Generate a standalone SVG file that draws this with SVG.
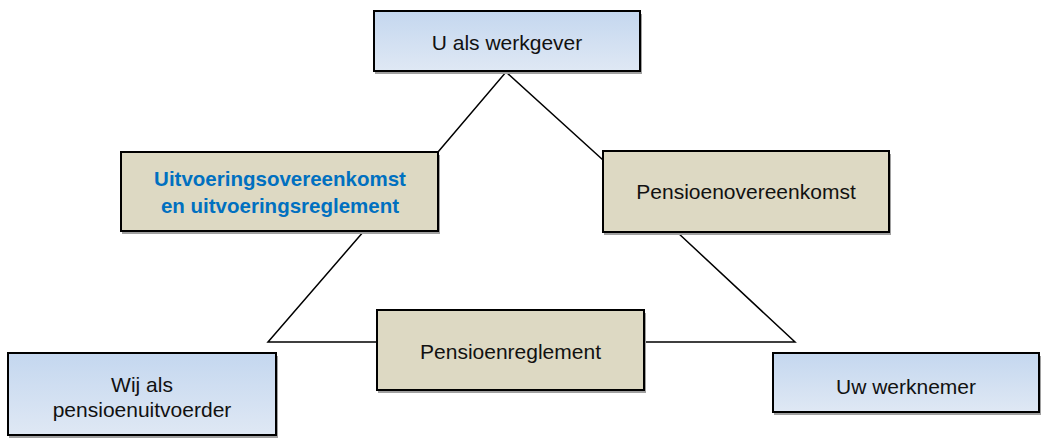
<svg xmlns="http://www.w3.org/2000/svg" width="1042" height="439" viewBox="0 0 1042 439">
<style>
.box{stroke:#000;stroke-width:2}
.blue{fill:url(#gb)}
.beige{fill:#ddd9c3}
.shadow{fill:#a0a0a0}
.conn{stroke:#000;stroke-width:1.5;fill:none}
text{font-family:"Liberation Sans",Arial,sans-serif;font-size:21px;fill:#111;text-anchor:middle}
text.b{font-weight:bold;fill:#0070c0;font-size:20.5px}
</style>
<defs>
<linearGradient id="gb" x1="0" y1="0" x2="0" y2="1">
<stop offset="0" stop-color="#c4d7ef"/>
<stop offset="1" stop-color="#dfe8f4"/>
</linearGradient>
</defs>
<g id="connectors">
<polyline class="conn" points="438,152 506,72 603,160"/>
<polyline class="conn" points="364,231 268,342 377,342"/>
<polyline class="conn" points="644,342 795,342 677,232"/>
</g>
<g id="werkgever">
<rect class="shadow" x="375" y="14" width="267" height="60"/>
<rect class="box blue" x="374" y="11" width="266" height="60"/>
<text x="507" y="50">U als werkgever</text>
</g>
<g id="uitvoeringsovereenkomst">
<rect class="shadow" x="122" y="155" width="318" height="79"/>
<rect class="box beige" x="121" y="152" width="317" height="79"/>
<text class="b" x="280" y="186">Uitvoeringsovereenkomst</text>
<text class="b" x="280" y="213">en uitvoeringsreglement</text>
</g>
<g id="pensioenovereenkomst">
<rect class="shadow" x="604" y="154" width="287" height="81"/>
<rect class="box beige" x="603" y="151" width="286" height="81"/>
<text x="746" y="199">Pensioenovereenkomst</text>
</g>
<g id="pensioenreglement">
<rect class="shadow" x="378" y="313" width="268" height="80"/>
<rect class="box beige" x="377" y="310" width="267" height="80"/>
<text x="510.5" y="359">Pensioenreglement</text>
</g>
<g id="pensioenuitvoerder">
<rect class="shadow" x="9" y="356" width="269" height="82"/>
<rect class="box blue" x="8" y="353" width="268" height="82"/>
<text x="142" y="392">Wij als</text>
<text x="142" y="417">pensioenuitvoerder</text>
</g>
<g id="werknemer">
<rect class="shadow" x="774" y="356" width="267" height="59"/>
<rect class="box blue" x="773" y="353" width="266" height="59"/>
<text x="906" y="394">Uw werknemer</text>
</g>
</svg>
